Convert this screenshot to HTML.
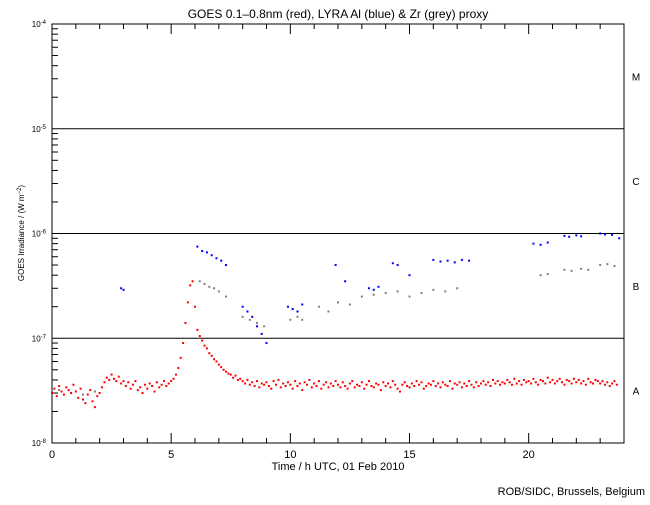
<!DOCTYPE html>
<html><head><meta charset="utf-8"><style>
body{margin:0;background:#fff}
svg text{font-family:"Liberation Sans",sans-serif;fill:#000}
</style></head><body>
<svg id="chart" width="650" height="500" viewBox="0 0 650 500" xmlns="http://www.w3.org/2000/svg">
<rect width="650" height="500" fill="#fff"/>
<g id="axes"></g>
<g id="marks"></g>
<text x="338" y="18" font-size="12" text-anchor="middle">GOES 0.1–0.8nm (red), LYRA Al (blue) &amp; Zr (grey) proxy</text>
<text x="338" y="470" font-size="11" text-anchor="middle">Time / h UTC, 01 Feb 2010</text>
<text transform="translate(24,233) rotate(-90)" font-size="8" text-anchor="middle">GOES Irradiance / (W m<tspan baseline-shift="super" font-size="6">−2</tspan>)</text>
<text x="645" y="495" font-size="11" text-anchor="end">ROB/SIDC, Brussels, Belgium</text>
</svg>
<script>
// Data (irradiance in units of 1e-8 W/m^2)
const redStart = 0, redStep = 0.1;
const redValues = [
3.0,3.3,2.8,3.5,3.1,2.9,3.4,3.2,3.0,3.6,
3.1,2.7,3.3,2.6,2.4,2.9,3.2,2.5,2.2,2.8,
3.0,3.4,3.8,4.2,4.0,4.5,4.1,3.9,4.3,3.7,
3.9,3.5,3.8,3.3,3.6,3.9,3.2,3.4,3.0,3.6,
3.3,3.7,3.5,3.1,3.8,3.4,3.6,3.9,3.5,3.7,
3.9,4.1,4.5,5.2,6.5,9.0,14,22,32,35,
20,12,10.5,9.5,8.5,8.0,7.2,6.8,6.3,6.0,
5.6,5.3,5.0,4.8,4.6,4.5,4.2,4.4,4.0,4.1,
3.9,3.7,4.0,3.6,3.8,3.5,3.9,3.4,3.7,3.6,
3.8,3.5,3.3,3.9,3.6,4.0,3.4,3.7,3.5,3.8,
3.6,3.3,3.9,3.5,3.7,3.2,3.8,3.6,4.0,3.4,
3.7,3.5,3.9,3.3,3.6,3.8,3.4,3.7,3.5,3.9,
3.6,3.4,3.8,3.5,3.3,3.7,3.9,3.4,3.6,3.5,
3.8,3.3,3.6,3.9,3.5,3.4,3.7,3.6,3.2,3.8,
3.5,3.7,3.4,3.9,3.6,3.3,3.1,3.6,3.8,3.5,
3.4,3.7,3.5,3.9,3.6,3.8,3.3,3.5,3.7,3.6,
3.9,3.5,3.7,3.4,3.8,3.6,3.5,3.9,3.3,3.7,
3.6,3.8,3.4,3.7,3.5,3.9,3.6,3.4,3.8,3.5,
3.7,3.9,3.6,3.8,3.5,4.0,3.7,3.9,3.6,3.8,
3.7,4.0,3.8,3.6,4.1,3.7,3.9,3.6,4.0,3.8,
3.9,3.7,4.1,3.8,3.6,4.0,3.9,3.7,4.2,3.8,
4.0,3.7,3.9,4.1,3.8,3.6,4.0,3.9,3.7,4.1,
3.8,4.0,3.7,3.9,3.6,4.1,3.8,3.7,4.0,3.9,
3.7,3.9,3.6,3.8,3.5,3.7,3.9,3.6
];
const blueTimes = [2.9,3.0,6.1,6.3,6.5,6.7,6.9,7.1,7.3,8.0,8.2,8.4,8.6,8.8,9.0,9.9,10.1,10.3,10.5,11.9,12.3,13.3,13.5,13.7,14.3,14.5,15.0,16.0,16.3,16.6,16.9,17.2,17.5,20.2,20.5,20.8,21.5,21.7,22.0,22.2,23.0,23.2,23.5,23.8];
const blueValues = [30,29,75,68,66,62,58,55,50,20,18,16,13,11,9,20,19,18,21,50,35,30,29,31,52,50,40,56,54,55,53,56,55,80,78,82,95,93,96,94,100,98,97,90];
const greyTimes = [0.3,0.8,1.3,1.8,6.2,6.4,6.6,6.8,7.0,7.3,8.0,8.3,8.6,8.9,10.0,10.3,10.5,11.2,11.6,12.0,12.5,13.0,13.5,14.0,14.5,15.0,15.5,16.0,16.5,17.0,20.5,20.8,21.5,21.8,22.2,22.5,23.0,23.3,23.6,24.0];
const greyValues = [3.2,3.0,2.9,3.1,35,33,31,30,28,25,16,15,14,13,15,16,15,20,18,22,21,25,26,27,28,25,27,29,28,30,40,41,45,44,46,45,50,51,49,48];
const yTickExp = [-8,-7,-6,-5,-4];
const xTickLabels = [0,5,10,15,20];
const classLabels = ["A","B","C","M"];

const X0=52,X1=624,Y0=443,YTOP=24,DEC=(Y0-YTOP)/4;
const xs=h=>X0+h*(X1-X0)/24;
const ys=v=>Y0-(Math.log10(v*1e-8)+8)*DEC;
const NS="http://www.w3.org/2000/svg";
function mk(t,a,p){const e=document.createElementNS(NS,t);for(const k in a)e.setAttribute(k,a[k]);p.appendChild(e);return e;}
const ax=document.getElementById('axes'), mg=document.getElementById('marks');
const frame=mk('rect',{x:X0,y:YTOP,width:X1-X0,height:Y0-YTOP,fill:'none',stroke:'#000','stroke-width':1},ax);


// y ticks
yTickExp.forEach((e,i)=>{
  const y=Y0-i*DEC;
  const t=mk('text',{x:46,y:y+3,'font-size':8,'text-anchor':'end'},ax);
  
  
  t.innerHTML='10<tspan baseline-shift="super" font-size="6">'+e+'</tspan>';
  if(i>0&&i<4){const l=mk('line',{x1:X0,x2:X1,y1:y,y2:y,stroke:'#000'},ax);
    
    }
  if(i<4){for(let m=2;m<=9;m++){const yy=y-Math.log10(m)*DEC;
    mk('line',{x1:X0,x2:X0+6,y1:yy,y2:yy,stroke:'#000'},ax);}}
});
classLabels.forEach((c,i)=>{
  const t=mk('text',{x:636,y:Y0-(i+0.5)*DEC+4,'font-size':10,'text-anchor':'middle'},ax);
  
  
  t.textContent=c;
});
for(let h=0;h<=24;h++){const x=xs(h),len=h%5==0?10:5;
  mk('line',{x1:x,x2:x,y1:Y0,y2:Y0-len,stroke:'#000'},ax);
  mk('line',{x1:x,x2:x,y1:YTOP,y2:YTOP+len,stroke:'#000'},ax);}
xTickLabels.forEach(h=>{
  const t=mk('text',{x:xs(h),y:458,'font-size':11,'text-anchor':'middle'},ax);
  
  
  t.textContent=h;
});
function dot(x,y,c,name){const r=mk('rect',{x:x-1,y:y-1,width:2,height:2,fill:c},mg);
  
  }
greyValues.forEach((v,i)=>dot(xs(greyTimes[i]),ys(v),'#808080','zr-proxy-point'));
blueValues.forEach((v,i)=>dot(xs(blueTimes[i]),ys(v),'#0000ff','al-proxy-point'));
redValues.forEach((v,i)=>dot(xs(redStart+i*redStep),ys(v),'#ff0000','goes-point'));
</script>
</body></html>
